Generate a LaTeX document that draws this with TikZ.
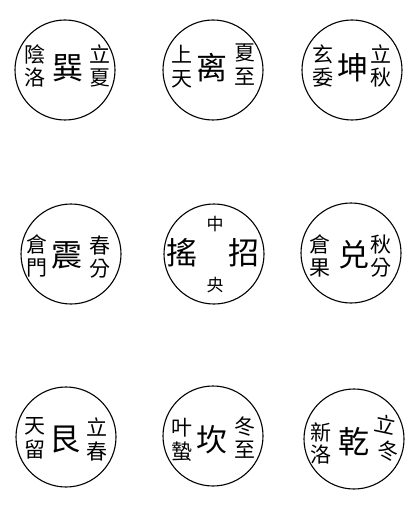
\documentclass[tikz,border=0pt]{standalone}
\usepackage{fontspec}
\newfontfamily\cjk{Noto Sans CJK TC}
\tikzset{
  ring/.style={circle, draw, line width=1.1pt, minimum size=100pt, inner sep=0pt},
  bigch/.style={font=\cjk\fontsize{31}{31}\selectfont, inner sep=0pt},
  smallch/.style={font=\cjk\fontsize{21}{21}\selectfont, inner sep=0pt},
  tinych/.style={font=\cjk\fontsize{17}{17}\selectfont, inner sep=0pt},
}
\begin{document}
\begin{tikzpicture}[x=1pt,y=-1pt]
\useasboundingbox (0,0) rectangle (416,505);
% row 1
\node[ring] (c1) at (65,70) {};
\node[smallch] (a1) at (35,54) {陰};
\node[smallch] (b1) at (35,78) {洛};
\node[bigch] (m1) at (68,68) {巽};
\node[smallch] (d1) at (100,54) {立};
\node[smallch] (e1) at (100,78) {夏};

\node[ring] (c2) at (213,70) {};
\node[smallch] (a2) at (182,54) {上};
\node[smallch] (b2) at (182,79) {天};
\node[bigch] (m2) at (212,68) {离};
\node[smallch] (d2) at (245,53) {夏};
\node[smallch] (e2) at (245,77) {至};

\node[ring] (c3) at (352,70) {};
\node[smallch] (a3) at (323,54) {玄};
\node[smallch] (b3) at (323,78) {委};
\node[bigch] (m3) at (353,68) {坤};
\node[smallch] (d3) at (381,54) {立};
\node[smallch] (e3) at (381,78) {秋};
% row 2
\node[ring] (c4) at (71,254) {};
\node[smallch] (a4) at (37,244) {倉};
\node[smallch] (b4) at (37,268) {門};
\node[bigch] (m4) at (67,255) {震};
\node[smallch] (d4) at (100,246) {春};
\node[smallch] (e4) at (100,269) {分};

\node[ring] (c5) at (214,254) {};
\node[tinych] (t5) at (215,224) {中};
\node[bigch] (m5) at (182,253) {搖};
\node[bigch] (n5) at (244,253) {招};
\node[tinych] (u5) at (215,285) {央};

\node[ring] (c6) at (351,253) {};
\node[smallch] (a6) at (320,244) {倉};
\node[smallch] (b6) at (320,268) {果};
\node[bigch] (m6) at (354,255) {兑};
\node[smallch] (d6) at (381,245) {秋};
\node[smallch] (e6) at (381,268) {分};
% row 3
\node[ring] (c7) at (66,437) {};
\node[smallch] (a7) at (35,426) {天};
\node[smallch] (b7) at (35,450) {留};
\node[bigch] (m7) at (65,440) {艮};
\node[smallch] (d7) at (97,427) {立};
\node[smallch] (e7) at (97,452) {春};

\node[ring] (c8) at (213,436) {};
\node[smallch] (a8) at (182,428) {叶};
\node[smallch] (b8) at (182,452) {蟄};
\node[bigch] (m8) at (212,440) {坎};
\node[smallch] (d8) at (245,427) {冬};
\node[smallch] (e8) at (245,450) {至};

\node[ring] (c9) at (354,439) {};
\node[smallch] (a9) at (321,432) {新};
\node[smallch] (b9) at (321,455) {洛};
\node[bigch] (m9) at (354,442) {乾};
\node[smallch, rotate=-12] (d9) at (386,424) {立};
\node[smallch, rotate=-12] (e9) at (388,451) {冬};
\end{tikzpicture}
\end{document}
